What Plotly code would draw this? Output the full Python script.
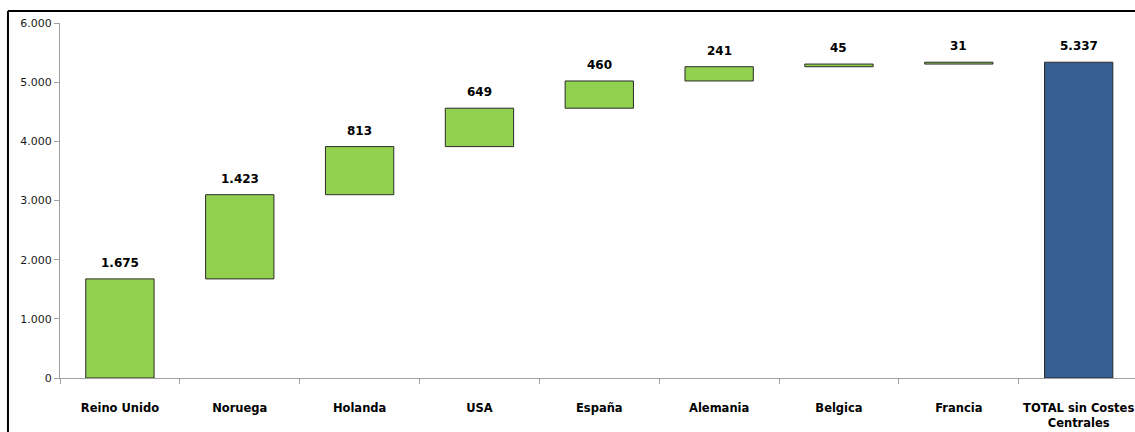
import plotly.graph_objects as go

categories = ["Reino Unido", "Noruega", "Holanda", "USA", "España", "Alemania", "Belgica", "Francia", "TOTAL sin Costes<br>Centrales"]
values = [1675, 1423, 813, 649, 460, 241, 45, 31, 5337]
measures = ["relative"] * 8 + ["total"]
labels = ["1.675", "1.423", "813", "649", "460", "241", "45", "31", "5.337"]
y_ticks = [0, 1000, 2000, 3000, 4000, 5000, 6000]

# cumulative tops for label placement
tops = []
run = 0
for v, m in zip(values, measures):
    if m == "relative":
        run += v
        tops.append(run)
    else:
        tops.append(v)

fig = go.Figure(go.Waterfall(
    x=categories,
    y=[v if m == "relative" else 0 for v, m in zip(values, measures)],
    measure=measures,
    width=0.57,
    connector=dict(visible=False),
    increasing=dict(marker=dict(color="#92D050", line=dict(color="#2a2a2a", width=1))),
    totals=dict(marker=dict(color="#376092", line=dict(color="#2a2a2a", width=1))),
    hoverinfo="skip",
))

annotations = [
    dict(x=c, y=t, xref="x", yref="y", text="<b>%s</b>" % lab, showarrow=False,
         yanchor="bottom", yshift=7,
         font=dict(family="DejaVu Sans", size=12, color="#000000"))
    for c, t, lab in zip(categories, tops, labels)
]

fig.update_layout(
    width=1135, height=432,
    margin=dict(l=60, r=0, t=23, b=54),
    paper_bgcolor="white", plot_bgcolor="white",
    separators=",.",
    showlegend=False,
    font=dict(family="DejaVu Sans", size=11, color="#000000"),
    xaxis=dict(
        type="category",
        range=[-0.5, 8.47],
        tickson="boundaries",
        ticks="outside", ticklen=5, tickcolor="#a0a0a0",
        showline=True, linecolor="#a0a0a0", linewidth=1,
        showgrid=False,
        ticklabelstandoff=19,
        tickfont=dict(family="DejaVu Sans", size=11.5, color="#000000"),
        tickprefix="<b>", ticksuffix="</b>",
    ),
    yaxis=dict(
        range=[0, 6000],
        tickvals=y_ticks,
        tickformat=",d",
        ticks="outside", ticklen=5, tickcolor="#a0a0a0",
        showline=True, linecolor="#a0a0a0", linewidth=1,
        showgrid=False, zeroline=False,
        tickfont=dict(family="DejaVu Sans", size=11, color="#1a1a1a"),
    ),
    annotations=annotations,
    shapes=[
        dict(type="line", xref="paper", yref="paper", x0=-0.0484, x1=1.01, y0=1.034, y1=1.034,
             line=dict(color="black", width=2)),
        dict(type="line", xref="paper", yref="paper", x0=-0.0484, x1=-0.0484, y0=1.034, y1=-0.16,
             line=dict(color="black", width=2)),
    ],
)

fig.write_html("out.html")
